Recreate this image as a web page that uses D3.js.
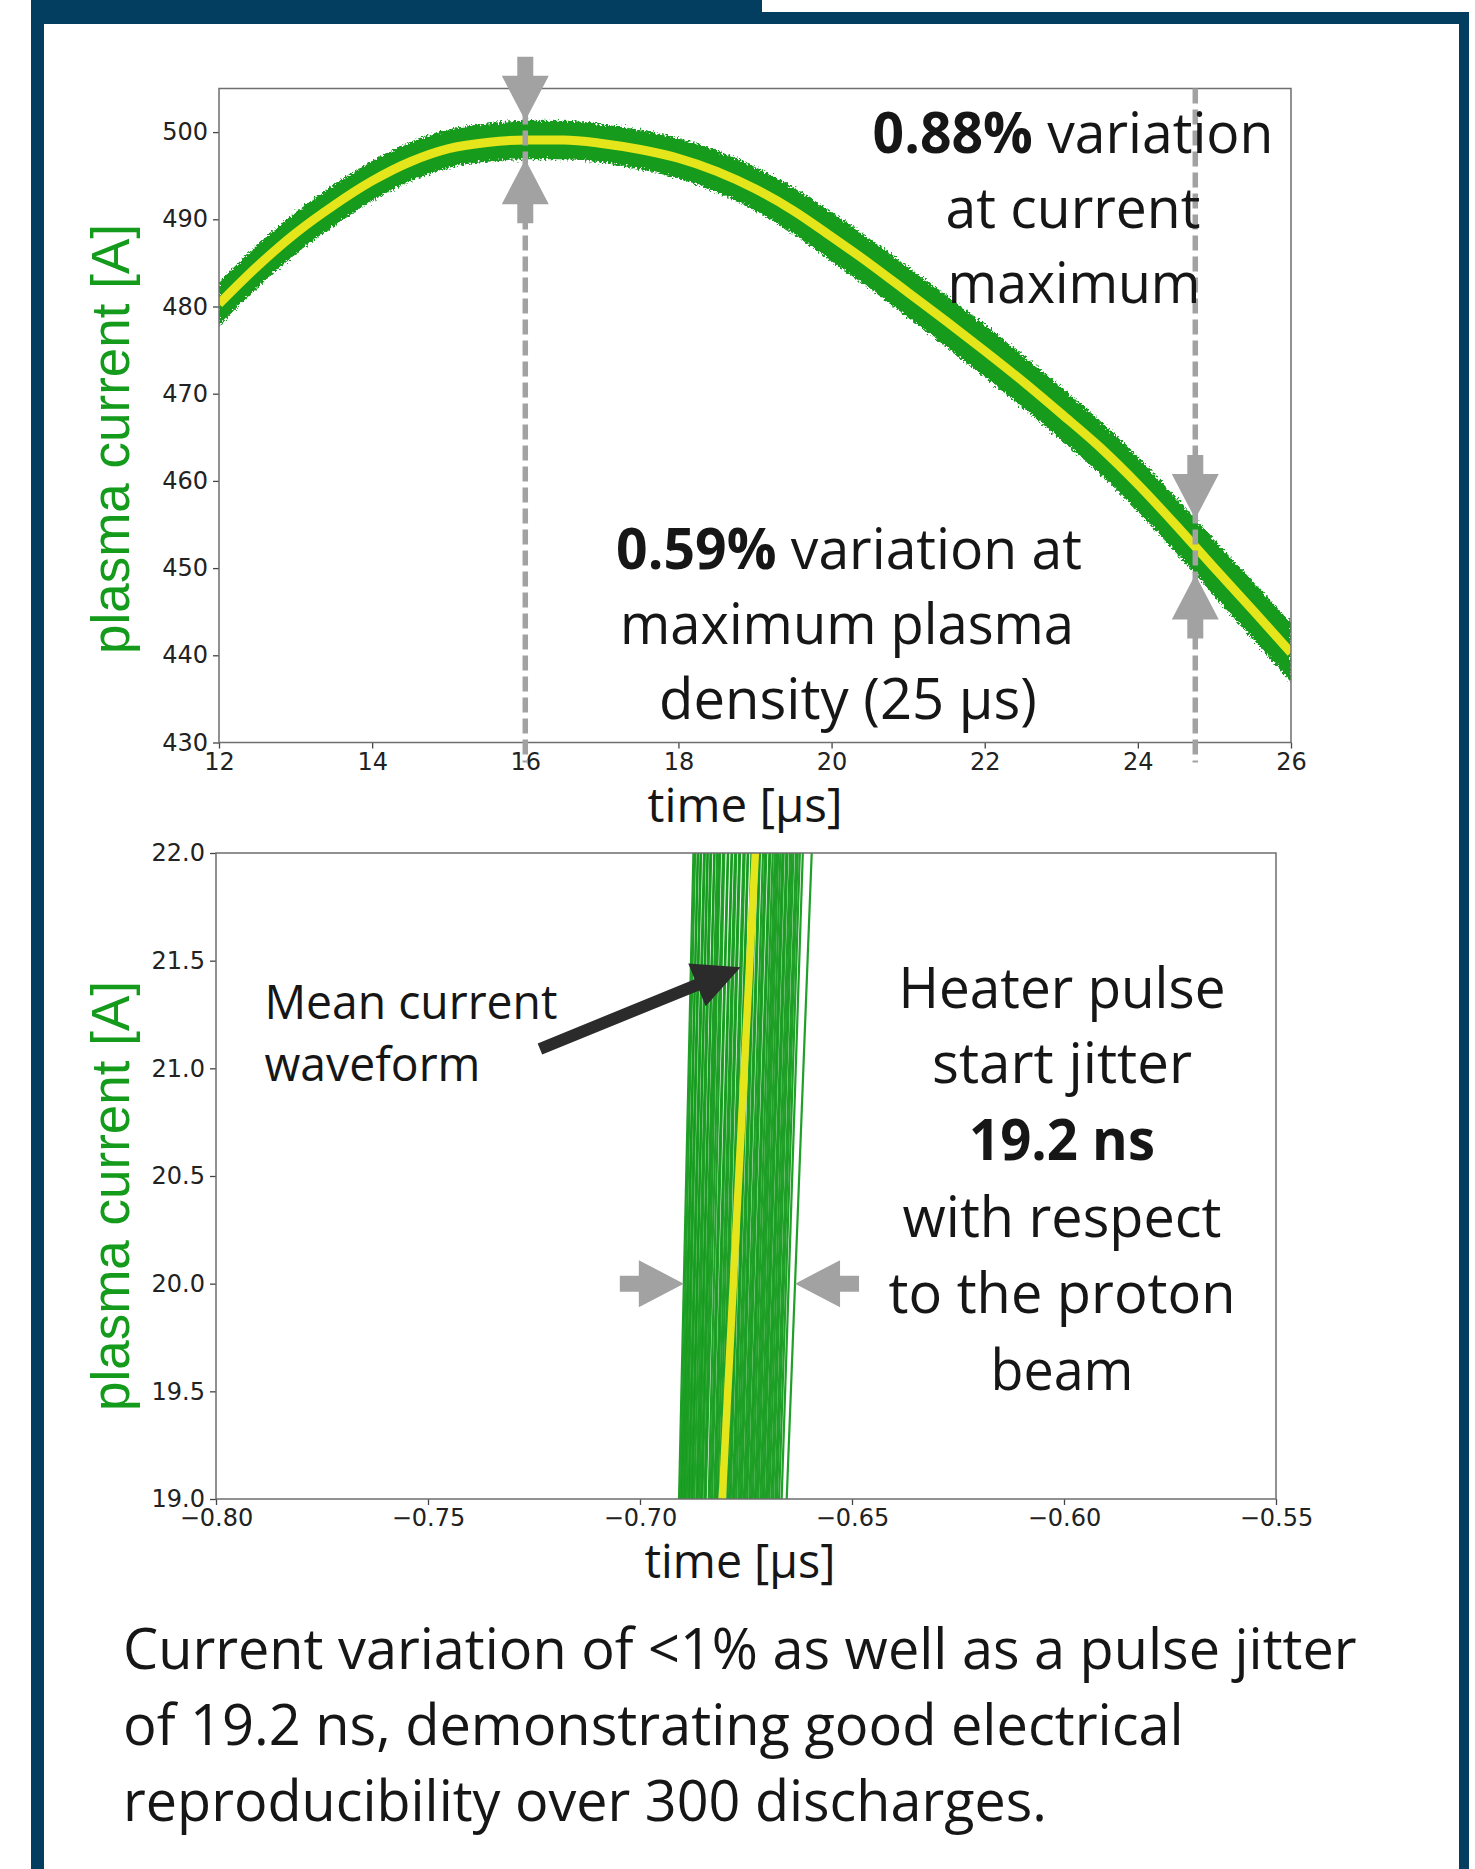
<!DOCTYPE html>
<html>
<head>
<meta charset="utf-8">
<script src="https://cdnjs.cloudflare.com/ajax/libs/d3/7.8.5/d3.min.js"></script>
<style>
    html, body { margin: 0; padding: 0; background: #fff; }
    svg { display: block; }
    text { white-space: pre; }
</style>
</head>
<body>
<svg id="chart" width="1475" height="1869"></svg>
<script>
// ── Data ──────────────────────────────────────────────────

// top panel: 300 discharges around the current maximum
const timeUs = [12, 12.5, 13, 13.5, 14, 14.5, 15, 15.5, 16, 16.5, 17, 17.5, 18, 18.5, 19,
    19.5, 20, 20.5, 21, 21.5, 22, 22.5, 23, 23.5, 24, 24.5, 25, 25.5, 26];
const meanCurrentA = [480.3, 484.6, 488.4, 491.6, 494.4, 496.6, 498.1, 498.8, 499.1, 499.1,
    498.7, 498.0, 497.0, 495.5, 493.5, 491.0, 488.0, 484.9, 481.6, 478.3, 474.9, 471.4,
    467.7, 463.9, 459.6, 454.9, 450.0, 445.2, 440.3];
const spreadA = [2.5, 2.45, 2.4, 2.35, 2.3, 2.25, 2.2, 2.2, 2.2, 2.2, 2.2, 2.25, 2.3, 2.4,
    2.5, 2.65, 2.8, 2.85, 2.9, 2.95, 3.0, 3.0, 3.0, 3.05, 3.1, 3.15, 3.2, 3.3, 3.4];
const topXTicks = [12, 14, 16, 18, 20, 22, 24, 26];
const topYTicks = [430, 440, 450, 460, 470, 480, 490, 500];
const markerTimes = [16, 24.75];

// bottom panel: pulse start, mean waveform + every discharge shifted in time (ns)
const meanEdgeTimes = [-0.6806, -0.6728];
const meanEdgeCurrents = [19.0, 22.0];
const jitterStartNs = [-10.2, -9.8, -9.5, -9.1, -8.8, -8.4, -8.0, -7.7, -7.3, -7.0, -6.6, -6.1,
    -5.8, -5.4, -5.0, -4.7, -4.2, -3.9, -3.2, -2.8, -2.4, -1.9, -1.5, -1.1, -0.6, -0.2, 0.3,
    0.7, 1.2, 1.6, 2.0, 2.5, 2.9, 3.3, 3.8, 4.2, 4.6, 5.1, 5.5, 5.9, 6.4, 6.8, 7.2, 7.7, 8.1,
    8.5, 9.0, 9.4, 9.8, 10.3, 10.7, 11.1, 11.6, 12.0, 12.5, 12.9, 13.4, 14.0, 15.2];
const jitterEndNs = [-14.6, -14.2, -13.5, -13.6, -12.9, -12.8, -12.1, -11.9, -11.2, -11.3,
    -10.6, -10.4, -9.6, -9.7, -9.0, -8.6, -8.3, -7.6, -7.3, -6.5, -6.4, -5.6, -5.5, -4.8,
    -4.5, -3.8, -3.6, -2.8, -2.5, -1.8, -1.7, -0.9, -0.8, 0.0, 0.2, 0.9, 1.1, 1.8, 2.3, 2.6,
    3.3, 3.5, 4.1, 4.6, 5.0, 5.4, 5.9, 6.4, 6.7, 7.3, 7.6, 8.2, 8.6, 9.0, 9.6, 10.0, 10.5,
    11.2, 13.3];
const bottomXTicks = [-0.80, -0.75, -0.70, -0.65, -0.60, -0.55];
const bottomYTicks = [19.0, 19.5, 20.0, 20.5, 21.0, 21.5, 22.0];
const jitterLevelA = 20.0;
const pointerFrom = [-0.7236, 21.09];
const pointerTo = [-0.6763, 21.47];

// ── Style ────────────────────────────────────────────────

const NAVY = '#033e60';
const GREEN = '#149b1c';
const YELLOW = '#e4e51b';
const GREY = '#a2a2a2';
const INK = '#161616';
const TEXT_FONT = "'Open Sans', 'Noto Sans', sans-serif";

const svg = d3.select('#chart');
const W = 1475, H = 1869;

// poster frame
svg.append('rect').attr('x', 31).attr('y', 0).attr('width', 731).attr('height', 24).attr('fill', NAVY);
svg.append('rect').attr('x', 762).attr('y', 12).attr('width', 707).attr('height', 12).attr('fill', NAVY);
svg.append('rect').attr('x', 31).attr('y', 0).attr('width', 13).attr('height', H).attr('fill', NAVY);
svg.append('rect').attr('x', 1459).attr('y', 12).attr('width', 10).attr('height', H).attr('fill', NAVY);

const defs = svg.append('defs');
const rough = defs.append('filter').attr('id', 'rough')
    .attr('x', '-5%').attr('y', '-10%').attr('width', '110%').attr('height', '120%');
rough.append('feTurbulence').attr('type', 'fractalNoise').attr('baseFrequency', '0.45')
    .attr('numOctaves', 2).attr('seed', 7).attr('result', 'noise');
rough.append('feDisplacementMap').attr('in', 'SourceGraphic').attr('in2', 'noise')
    .attr('scale', 8).attr('xChannelSelector', 'R').attr('yChannelSelector', 'G');

// block arrow with its tip at (x, y) pointing along angle (deg)
function blockArrow(g, x, y, angle, fill) {
    const headL = 45, headW = 47, stemL = 19, stemW = 16;
    const pts = [[0, 0], [-headL, headW / 2], [-headL, stemW / 2], [-headL - stemL, stemW / 2],
        [-headL - stemL, -stemW / 2], [-headL, -stemW / 2], [-headL, -headW / 2]];
    g.append('polygon')
        .attr('points', pts.map(p => p.join(',')).join(' '))
        .attr('transform', `translate(${x},${y}) rotate(${angle})`)
        .attr('fill', fill || GREY);
}

// text line squeezed/stretched to the width it has in the picture
function textLine(parts, x, y, size, anchor, width) {
    const t = svg.append('text')
        .attr('font-family', TEXT_FONT)
        .attr('font-size', size)
        .attr('fill', INK)
        .attr('text-anchor', anchor);
    parts.forEach(p => t.append('tspan').text(p[0]).attr('font-weight', p[1] ? 700 : 400));
    const w = t.node().getBBox().width || width;
    const k = width / w;
    t.attr('transform', `translate(${x},${y}) scale(${k},1)`);
    return t;
}

function styleAxis(g) {
    g.select('.domain').remove();
    g.selectAll('.tick line').attr('stroke', '#444').attr('stroke-width', 1.3);
    g.selectAll('.tick text')
        .attr('fill', '#222')
        .style('font-family', "'DejaVu Sans', sans-serif")
        .style('font-size', '24px');
}

function yLabel(cy) {
    svg.append('text')
        .attr('transform', `translate(129,${cy}) rotate(-90)`)
        .attr('text-anchor', 'middle')
        .attr('font-family', "'Liberation Sans', Arial, sans-serif")
        .attr('font-size', 53)
        .attr('fill', GREEN)
        .text('plasma current [A]');
}

// ── Top panel ────────────────────────────────────────────

const P1 = { left: 219, right: 1291, top: 88.5, bottom: 742.5 };
const x1 = d3.scaleLinear().domain([12, 26]).range([P1.left, P1.right]);
const y1 = d3.scaleLinear().domain([430, 505]).range([P1.bottom, P1.top]);
const meanAt = d3.scaleLinear().domain(timeUs).range(meanCurrentA);
const spreadAt = d3.scaleLinear().domain(timeUs).range(spreadA);

defs.append('clipPath').attr('id', 'clip1').append('rect')
    .attr('x', P1.left).attr('y', P1.top)
    .attr('width', P1.right - P1.left).attr('height', P1.bottom - P1.top);

const g1 = svg.append('g').attr('clip-path', 'url(#clip1)');
const idx = d3.range(timeUs.length);

g1.append('path')
    .datum(idx)
    .attr('d', d3.area()
        .x(i => x1(timeUs[i]))
        .y0(i => y1(meanCurrentA[i] - spreadA[i]))
        .y1(i => y1(meanCurrentA[i] + spreadA[i]))
        .curve(d3.curveMonotoneX))
    .attr('fill', GREEN)
    .attr('filter', 'url(#rough)');

g1.append('path')
    .datum(idx)
    .attr('d', d3.line().x(i => x1(timeUs[i])).y(i => y1(meanCurrentA[i])).curve(d3.curveMonotoneX))
    .attr('fill', 'none')
    .attr('stroke', YELLOW)
    .attr('stroke-width', 9);

// axes
svg.append('g').attr('transform', `translate(0,${P1.bottom})`)
    .call(d3.axisBottom(x1).tickValues(topXTicks).tickFormat(d3.format('d')).tickSize(6).tickPadding(4))
    .call(styleAxis);
svg.append('g').attr('transform', `translate(${P1.left},0)`)
    .call(d3.axisLeft(y1).tickValues(topYTicks).tickFormat(d3.format('d')).tickSize(6).tickPadding(5))
    .call(styleAxis);

svg.append('rect')
    .attr('x', P1.left).attr('y', P1.top)
    .attr('width', P1.right - P1.left).attr('height', P1.bottom - P1.top)
    .attr('fill', 'none').attr('stroke', '#6e6e6e').attr('stroke-width', 1.5);

// dashed markers and variation arrows
markerTimes.forEach(t => {
    const px = x1(t);
    svg.append('line')
        .attr('x1', px).attr('x2', px).attr('y1', P1.top).attr('y2', P1.bottom + 20)
        .attr('stroke', GREY).attr('stroke-width', 5.5).attr('stroke-dasharray', '15 6');
    blockArrow(svg, px, y1(meanAt(t) + spreadAt(t)), 90);
    blockArrow(svg, px, y1(meanAt(t) - spreadAt(t)), -90);
});

yLabel(439);
textLine([['time [µs]', false]], 745, 822, 48, 'middle', 195);

textLine([['0.88%', true], [' variation', false]], 1073, 153, 57, 'middle', 401);
textLine([['at current', false]], 1073, 228, 57, 'middle', 255);
textLine([['maximum', false]], 1074, 303, 57, 'middle', 253);

textLine([['0.59%', true], [' variation at', false]], 849, 569, 57, 'middle', 466);
textLine([['maximum plasma', false]], 847, 644, 57, 'middle', 454);
textLine([['density (25 µs)', false]], 848, 719, 57, 'middle', 378);

// ── Bottom panel ─────────────────────────────────────────

const P2 = { left: 216, right: 1276, top: 853, bottom: 1499 };
const x2 = d3.scaleLinear().domain([-0.80, -0.55]).range([P2.left, P2.right]);
const y2 = d3.scaleLinear().domain([19, 22]).range([P2.bottom, P2.top]);

defs.append('clipPath').attr('id', 'clip2').append('rect')
    .attr('x', P2.left).attr('y', P2.top)
    .attr('width', P2.right - P2.left).attr('height', P2.bottom - P2.top);

const g2 = svg.append('g').attr('clip-path', 'url(#clip2)');
const shots = jitterStartNs.map((s, i) => [
    [meanEdgeTimes[0] + s / 1000, meanEdgeCurrents[0]],
    [meanEdgeTimes[1] + jitterEndNs[i] / 1000, meanEdgeCurrents[1]]
]);
const line2 = d3.line().x(d => x2(d[0])).y(d => y2(d[1]));

g2.append('g')
    .selectAll('path')
    .data(shots)
    .enter()
    .append('path')
    .attr('d', line2)
    .attr('fill', 'none')
    .attr('stroke', GREEN)
    .attr('stroke-opacity', 0.95)
    .attr('stroke-width', 2.2);

g2.append('path')
    .datum(meanEdgeTimes.map((t, i) => [t, meanEdgeCurrents[i]]))
    .attr('d', line2)
    .attr('fill', 'none')
    .attr('stroke', YELLOW)
    .attr('stroke-width', 7.5);

svg.append('g').attr('transform', `translate(0,${P2.bottom})`)
    .call(d3.axisBottom(x2).tickValues(bottomXTicks).tickFormat(d3.format('.2f')).tickSize(6).tickPadding(4))
    .call(styleAxis);
svg.append('g').attr('transform', `translate(${P2.left},0)`)
    .call(d3.axisLeft(y2).tickValues(bottomYTicks).tickFormat(d3.format('.1f')).tickSize(6).tickPadding(5))
    .call(styleAxis);

svg.append('rect')
    .attr('x', P2.left).attr('y', P2.top)
    .attr('width', P2.right - P2.left).attr('height', P2.bottom - P2.top)
    .attr('fill', 'none').attr('stroke', '#6e6e6e').attr('stroke-width', 1.5);

// jitter arrows touch the outermost discharges at 20 A
const frac = (jitterLevelA - meanEdgeCurrents[0]) / (meanEdgeCurrents[1] - meanEdgeCurrents[0]);
const edgeTimes = shots.map(s => s[0][0] + (s[1][0] - s[0][0]) * frac);
blockArrow(svg, x2(d3.min(edgeTimes)), y2(jitterLevelA), 0);
blockArrow(svg, x2(d3.max(edgeTimes)), y2(jitterLevelA), 180);

// "mean current" pointer
{
    const ax = x2(pointerFrom[0]), ay = y2(pointerFrom[1]);
    const bx = x2(pointerTo[0]), by = y2(pointerTo[1]);
    const len = Math.hypot(bx - ax, by - ay);
    const ang = Math.atan2(by - ay, bx - ax) * 180 / Math.PI;
    const headL = 47, headW = 46, shaftW = 12;
    const pts = [[0, 0], [-headL, headW / 2], [-headL, shaftW / 2], [-len, shaftW / 2],
        [-len, -shaftW / 2], [-headL, -shaftW / 2], [-headL, -headW / 2]];
    svg.append('polygon')
        .attr('points', pts.map(p => p.join(',')).join(' '))
        .attr('transform', `translate(${bx},${by}) rotate(${ang})`)
        .attr('fill', '#2b2b2b');
}

yLabel(1196);
textLine([['time [µs]', false]], 740, 1578, 48, 'middle', 191);

textLine([['Mean current', false]], 264.5, 1019, 47, 'start', 293);
textLine([['waveform', false]], 264.5, 1081, 47, 'start', 216);

const heater = [
    [[['Heater pulse', false]], 1007.6, 327],
    [[['start jitter', false]], 1082.7, 260],
    [[['19.2 ns', true]], 1160.2, 186],
    [[['with respect', false]], 1236.5, 319],
    [[['to the proton', false]], 1312.8, 347],
    [[['beam', false]], 1390.3, 143]
];
heater.forEach(h => textLine(h[0], 1062, h[1], 57, 'middle', h[2]));

// ── Caption ──────────────────────────────────────────────

textLine([['Current variation of <1% as well as a pulse jitter', false]], 123, 1669, 57, 'start', 1234);
textLine([['of 19.2 ns, demonstrating good electrical', false]], 123, 1745, 57, 'start', 1061);
textLine([['reproducibility over 300 discharges.', false]], 123, 1821, 57, 'start', 924);
</script>
</body>
</html>
